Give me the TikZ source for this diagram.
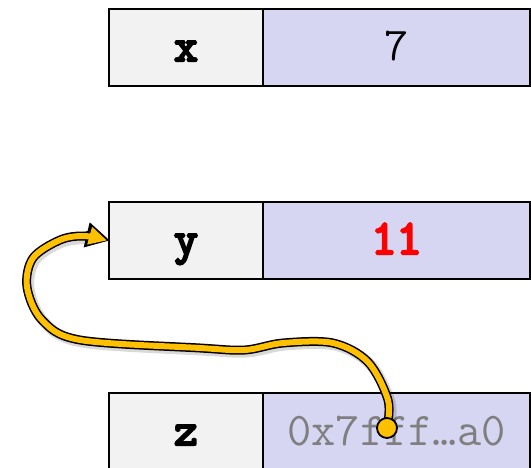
\documentclass[tikz,border=0pt]{standalone}
\usepackage{fontspec}
\newfontfamily\cour{Latin Modern Mono}
\newfontfamily\courb{Latin Modern Mono}[FakeBold=5]
\usetikzlibrary{arrows.meta}
\definecolor{lblfill}{HTML}{F2F2F2}
\definecolor{valfill}{HTML}{D6D6F2}
\definecolor{ptrgold}{HTML}{FFC000}
\definecolor{valgray}{HTML}{7F7F7F}
\tikzset{
  cellbase/.style={draw=black, line width=2pt, minimum height=77pt, inner sep=0pt, anchor=north west, text height=30pt, text depth=3pt},
  lblcell/.style={cellbase, fill=lblfill, minimum width=154pt, font=\courb\fontsize{46}{46}\selectfont},
  valcell/.style={cellbase, fill=valfill, minimum width=267pt, font=\cour\fontsize{47}{47}\selectfont},
}
\begin{document}
\begin{tikzpicture}[x=1pt,y=-1pt]
\useasboundingbox (0,0) rectangle (531,468);
% x
\node[lblcell] (xl) at (108,8) {x};
\node[valcell] (xv) at (262,8) {7};
% y
\node[lblcell] (yl) at (108,201) {y};
\node[valcell, text=red, font=\courb\fontsize{49}{49}\selectfont] (yv) at (262,201) {11};
% z
\node[lblcell] (zl) at (108,392) {z};
\node[valcell, text=valgray] (zv) at (262,392) {0x7fff…a0};
\coordinate (zdot) at (387,428);
% shadow
\draw[line width=11pt, black, opacity=0.15, line cap=round, line join=round, shift={(2pt,-2pt)}]
  plot[smooth, tension=0.55] coordinates {(387,428) (388,400) (368,362) (333,343) (283,343) (245,350) (200,348) (80,340) (42,320) (27,287) (33,258) (60,240) (88,236)};
% outline
\draw[line width=9pt, black, line cap=round, line join=round, -{Triangle[length=24pt,width=24pt]}]
  plot[smooth, tension=0.55] coordinates {(zdot) (388,400) (368,362) (333,343) (283,343) (245,350) (200,348) (80,340) (42,320) (27,287) (33,258) (60,240) (84,236) ([xshift=2pt]yl.west)};
% core
\draw[line width=6pt, ptrgold, line cap=round, line join=round, -{Triangle[length=18pt,width=17pt]}]
  plot[smooth, tension=0.55] coordinates {(zdot) (388,400) (368,362) (333,343) (283,343) (245,350) (200,348) (80,340) (42,320) (27,287) (33,258) (60,240) (84,236) ([xshift=-1pt]yl.west)};
\fill[ptrgold, draw=black, line width=1.8pt] (zdot) circle (10pt);
\end{tikzpicture}
\end{document}
